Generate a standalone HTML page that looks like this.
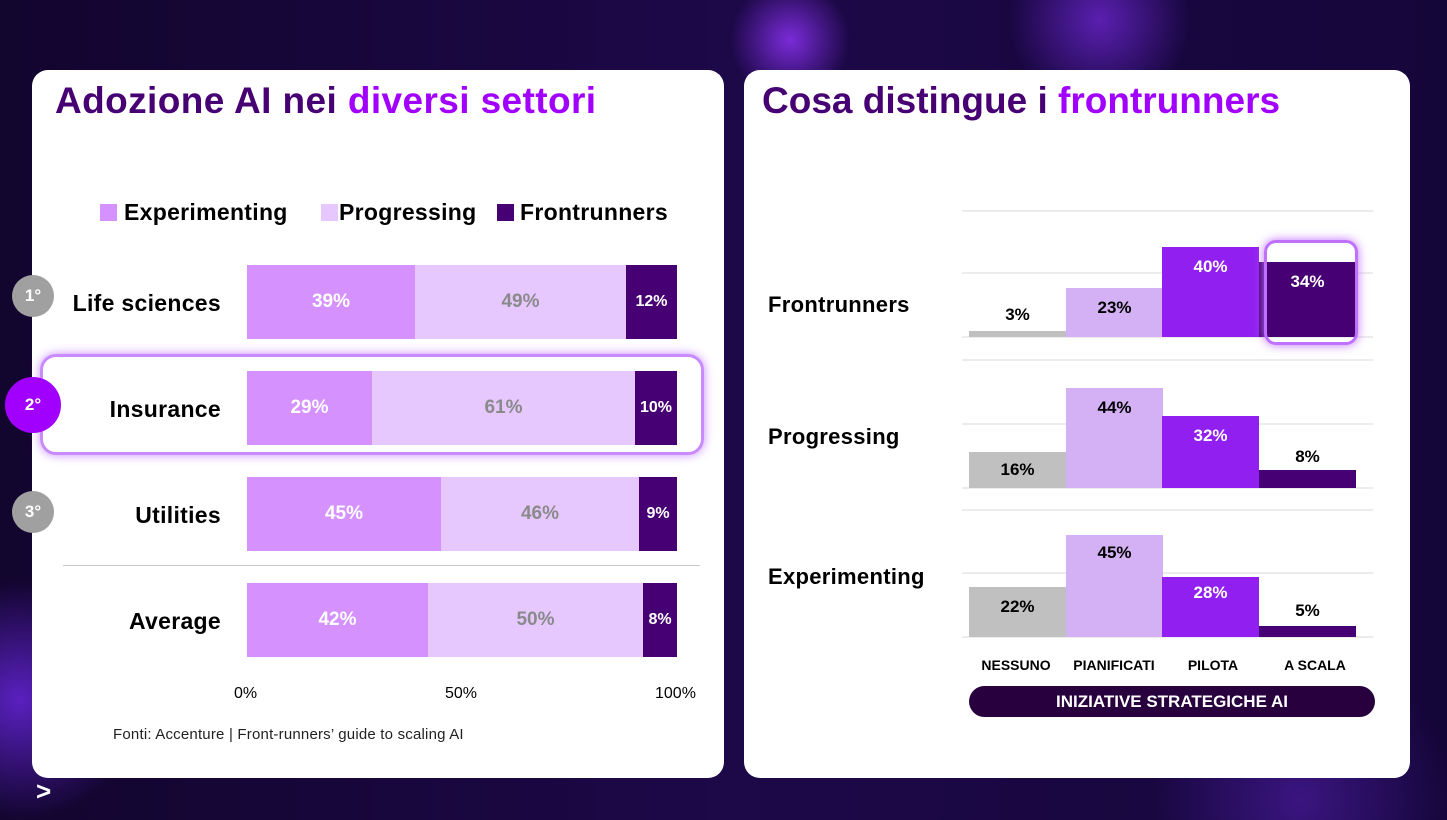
<!DOCTYPE html>
<html><head><meta charset="utf-8"><style>
*{margin:0;padding:0;box-sizing:border-box}
body{width:1447px;height:820px;overflow:hidden;position:relative;font-family:"Liberation Sans",sans-serif;
background:radial-gradient(circle at 790px 40px,#7a2bd8 0,rgba(122,43,216,0) 60px),radial-gradient(circle at 1100px 20px,#5a1fb0 0,rgba(90,31,176,0) 90px),radial-gradient(circle at 20px 700px,#5a20c0 0,rgba(90,32,192,0) 120px),radial-gradient(circle at 1300px 800px,#3a1580 0,rgba(58,21,128,0) 150px),linear-gradient(90deg,#12052e,#1d0848 50%,#15063a);}
.a{position:absolute}
.card{position:absolute;background:#fff;border-radius:16px}
.t{font-weight:bold;font-size:37px;letter-spacing:0.4px;color:#460073}
.t span{color:#a100ff}
.lab{position:absolute;font-weight:bold;font-size:23px;color:#000;text-align:right;width:200px;letter-spacing:0.3px}
.seg{position:absolute;height:74px;display:flex;align-items:center;justify-content:center;font-weight:bold;font-size:19px}
.e{background:#d592ff;color:#fff}.p{background:#e6c8ff;color:#8a8a8a}.f{background:#460073;color:#fff;font-size:16px}
.circ{position:absolute;border-radius:50%;color:#fff;font-weight:bold;display:flex;align-items:center;justify-content:center;font-size:17px}
.g{position:absolute;left:962px;width:411px;height:2px;background:#ececec}
.b{position:absolute;width:97px;display:flex;justify-content:center;font-size:17px;font-weight:bold}
.rl{position:absolute;left:768px;font-weight:bold;font-size:22px;color:#000;letter-spacing:0.3px}
.cat{position:absolute;top:657px;font-weight:bold;font-size:14px;color:#000;width:110px;text-align:center}
.lg{position:absolute;top:199px;font-weight:bold;font-size:23px;letter-spacing:0.3px}
</style></head><body>
<div class="card" style="left:32px;top:70px;width:692px;height:708px"></div>
<div class="card" style="left:744px;top:70px;width:666px;height:708px"></div>
<div class="a t" style="left:55px;top:80px">Adozione AI nei <span>diversi settori</span></div>
<div class="a t" style="left:762px;top:80px;letter-spacing:0px">Cosa distingue i <span>frontrunners</span></div>
<div class="a" style="left:100px;top:204px;width:17px;height:17px;background:#d592ff"></div>
<div class="lg" style="left:124px">Experimenting</div>
<div class="a" style="left:321px;top:204px;width:17px;height:17px;background:#e6c8ff"></div>
<div class="lg" style="left:339px">Progressing</div>
<div class="a" style="left:497px;top:204px;width:17px;height:17px;background:#460073"></div>
<div class="lg" style="left:520px">Frontrunners</div>
<div class="a" style="left:40px;top:354px;width:664px;height:101px;border:3px solid #c98bff;border-radius:16px;box-shadow:0 0 10px #c98bff"></div>
<div class="circ" style="left:12px;top:275px;width:42px;height:42px;background:#a0a0a0">1°</div>
<div class="circ" style="left:5px;top:377px;width:56px;height:56px;background:#a100ff">2°</div>
<div class="circ" style="left:12px;top:491px;width:42px;height:42px;background:#a0a0a0">3°</div>
<div class="lab" style="left:21px;top:290px">Life sciences</div>
<div class="lab" style="left:21px;top:396px">Insurance</div>
<div class="lab" style="left:21px;top:502px">Utilities</div>
<div class="lab" style="left:21px;top:608px">Average</div>
<div class="seg e" style="left:247px;top:265px;width:168px">39%</div><div class="seg p" style="left:415px;top:265px;width:211px">49%</div><div class="seg f" style="left:626px;top:265px;width:51px">12%</div>
<div class="seg e" style="left:247px;top:371px;width:125px">29%</div><div class="seg p" style="left:372px;top:371px;width:263px">61%</div><div class="seg f" style="left:635px;top:371px;width:42px">10%</div>
<div class="seg e" style="left:247px;top:477px;width:194px">45%</div><div class="seg p" style="left:441px;top:477px;width:198px">46%</div><div class="seg f" style="left:639px;top:477px;width:38px">9%</div>
<div class="a" style="left:63px;top:565px;width:637px;height:1px;background:#c8c8c8"></div>
<div class="seg e" style="left:247px;top:583px;width:181px">42%</div><div class="seg p" style="left:428px;top:583px;width:215px">50%</div><div class="seg f" style="left:643px;top:583px;width:34px">8%</div>
<div class="a" style="left:234px;top:685px;font-size:16px">0%</div>
<div class="a" style="left:445px;top:685px;font-size:16px">50%</div>
<div class="a" style="left:655px;top:685px;font-size:16px">100%</div>
<div class="a" style="left:113px;top:726px;font-size:15px;color:#222;letter-spacing:0.2px">Fonti: Accenture | Front-runners’ guide to scaling AI</div>
<div class="g" style="top:210px"></div><div class="g" style="top:272px"></div><div class="g" style="top:336px"></div>
<div class="g" style="top:359px"></div><div class="g" style="top:423px"></div><div class="g" style="top:487px"></div>
<div class="g" style="top:509px"></div><div class="g" style="top:572px"></div><div class="g" style="top:636px"></div>
<div class="rl" style="top:292px">Frontrunners</div>
<div class="rl" style="top:424px">Progressing</div>
<div class="rl" style="top:564px">Experimenting</div>
<div class="b" style="left:969px;top:331px;height:6px;background:#c0c0c0"></div><div class="b" style="left:969px;top:305px">3%</div>
<div class="b" style="left:1066px;top:288px;height:49px;background:#d4b0f5;padding-top:10px">23%</div>
<div class="b" style="left:1162px;top:247px;height:90px;background:#9120f0;color:#fff;padding-top:10px">40%</div>
<div class="b" style="left:1259px;top:262px;height:75px;background:#460073;color:#fff;padding-top:10px">34%</div>
<div class="a" style="left:1264px;top:240px;width:94px;height:105px;border:3px solid #c070ff;border-radius:12px;box-shadow:0 0 10px #c070ff"></div>
<div class="b" style="left:969px;top:452px;height:36px;background:#c0c0c0;padding-top:8px">16%</div>
<div class="b" style="left:1066px;top:388px;height:100px;background:#d4b0f5;padding-top:10px">44%</div>
<div class="b" style="left:1162px;top:416px;height:72px;background:#9120f0;color:#fff;padding-top:10px">32%</div>
<div class="b" style="left:1259px;top:470px;height:18px;background:#460073"></div><div class="b" style="left:1259px;top:447px">8%</div>
<div class="b" style="left:969px;top:587px;height:50px;background:#c0c0c0;padding-top:10px">22%</div>
<div class="b" style="left:1066px;top:535px;height:102px;background:#d4b0f5;padding-top:8px">45%</div>
<div class="b" style="left:1162px;top:577px;height:60px;background:#9120f0;color:#fff;padding-top:6px">28%</div>
<div class="b" style="left:1259px;top:626px;height:11px;background:#460073"></div><div class="b" style="left:1259px;top:601px">5%</div>
<div class="cat" style="left:961px">NESSUNO</div>
<div class="cat" style="left:1059px">PIANIFICATI</div>
<div class="cat" style="left:1158px">PILOTA</div>
<div class="cat" style="left:1260px">A SCALA</div>
<div class="a" style="left:969px;top:686px;width:406px;height:31px;background:#27003d;border-radius:16px;color:#fff;font-weight:bold;font-size:17px;display:flex;align-items:center;justify-content:center">INIZIATIVE STRATEGICHE AI</div>
<div class="a" style="left:36px;top:776px;color:#fff;font-weight:bold;font-size:26px">&gt;</div>
</body></html>
